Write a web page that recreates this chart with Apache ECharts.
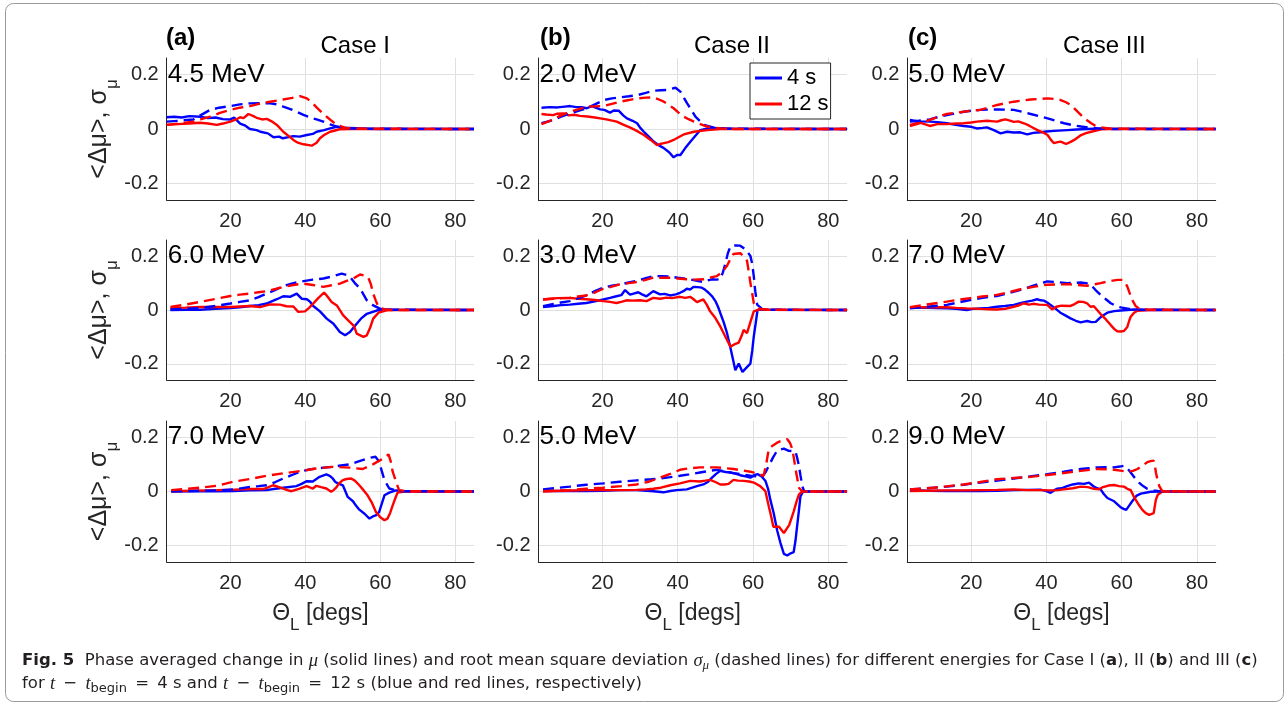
<!DOCTYPE html>
<html><head><meta charset="utf-8">
<script src="https://cdn.jsdelivr.net/npm/echarts@6/dist/echarts.min.js"></script>
<style>html,body{margin:0;padding:0;background:#fff}#c{width:1288px;height:705px}</style>
</head><body><div id="c"></div><script>
// ---------- DATA (theta_L in degrees, value) ----------
const caseTitles = ['Case I', 'Case II', 'Case III'];
const panelLetters = ['(a)', '(b)', '(c)'];
const energyLabels = [
  ['4.5 MeV', '2.0 MeV', '5.0 MeV'],
  ['6.0 MeV', '3.0 MeV', '7.0 MeV'],
  ['7.0 MeV', '5.0 MeV', '9.0 MeV']
];
const legendNames = ['4 s', '12 s'];

// Row 1
const a1BlueMean = [[3,0.043],[5,0.045],[7,0.042],[9,0.047],[12,0.045],[14,0.04],[16,0.042],[18,0.036],[20,0.035],[21,0.042],[22.6,0.02],[24,0.012],[25.2,0.0],[27,-0.004],[28,-0.01],[30,-0.016],[31.5,-0.03],[33,-0.028],[34,-0.034],[35.5,-0.03],[36.8,-0.026],[38.5,-0.028],[40.4,-0.022],[42,-0.018],[43,-0.01],[45,-0.004],[46.6,0.002],[48.4,0.008],[50,0.005],[53.7,0.003],[56,0.001],[60,0],[85,0]];
const a1RedMean = [[3,0.015],[6,0.018],[9,0.02],[11.9,0.023],[14,0.02],[16.4,0.015],[18,0.02],[20,0.027],[21.5,0.035],[22.6,0.043],[23.5,0.04],[24.8,0.055],[26,0.048],[27,0.041],[28.5,0.035],[29.7,0.037],[31,0.028],[32.4,0.015],[33.3,0.002],[34.1,-0.01],[35.5,-0.025],[36.8,-0.04],[38,-0.05],[39.5,-0.056],[41.7,-0.061],[43,-0.05],[43.9,-0.034],[45,-0.022],[46.6,-0.01],[49.2,-0.001],[52,0],[85,0]];
const a1BlueSigma = [[3,0.027],[6,0.03],[10.1,0.035],[12,0.05],[14.6,0.07],[17,0.078],[20,0.084],[22.5,0.09],[25.2,0.094],[28,0.095],[30.6,0.094],[32.5,0.09],[34.1,0.082],[36,0.073],[37.7,0.063],[39.5,0.052],[41.2,0.043],[43,0.035],[44.8,0.027],[46.6,0.017],[48.4,0.009],[50,0.005],[51.9,0.002],[55,0.001],[85,0]];
const a1RedSigma = [[3,0.015],[6,0.02],[10.1,0.027],[12,0.035],[14.6,0.045],[17,0.058],[20,0.07],[22.5,0.078],[25.2,0.084],[28,0.093],[30.6,0.1],[32.5,0.104],[34.1,0.108],[36.5,0.114],[38.6,0.12],[40.4,0.112],[41.7,0.098],[43,0.079],[44.3,0.062],[45.7,0.045],[47,0.03],[48.4,0.015],[51,0.003],[55,0.001],[85,0]];

const b1BlueMean = [[3.8,0.078],[6,0.08],[8,0.079],[10,0.082],[11.4,0.084],[13,0.08],[14.5,0.08],[15.8,0.076],[17.2,0.084],[18.2,0.078],[19.4,0.072],[20.5,0.07],[22,0.06],[23,0.068],[24.3,0.067],[25.5,0.05],[26.5,0.039],[28,0.03],[29.2,0.021],[30,0.005],[31,-0.01],[32.3,-0.028],[33.6,-0.046],[35,-0.06],[36.3,-0.07],[37.7,-0.085],[38.9,-0.104],[39.8,-0.095],[40.7,-0.095],[42,-0.07],[43.4,-0.046],[44.7,-0.025],[46,-0.004],[48.7,0.005],[51,0.002],[55,0.001],[85,0]];
const b1RedMean = [[3.8,0.055],[5,0.053],[6.9,0.051],[8,0.056],[9.6,0.057],[11,0.05],[12.5,0.052],[14,0.048],[16,0.046],[18,0.042],[19.4,0.039],[21,0.035],[23.8,0.027],[25.5,0.016],[27.4,0.005],[29,-0.006],[31,-0.022],[32.8,-0.04],[34.5,-0.059],[35.3,-0.055],[36.3,-0.052],[37.5,-0.048],[38.9,-0.04],[40.2,-0.03],[41.6,-0.02],[44.3,-0.01],[47.8,-0.004],[51.4,0],[85,0]];
const b1BlueSigma = [[3.8,0.021],[6.9,0.033],[9,0.045],[11.4,0.057],[14,0.068],[15.8,0.076],[18,0.09],[20.3,0.106],[22.5,0.112],[24.7,0.116],[27,0.12],[29.2,0.124],[31.5,0.132],[33.6,0.14],[35.5,0.142],[37.2,0.143],[39.4,0.151],[40.7,0.137],[41.6,0.115],[42.5,0.094],[43.6,0.07],[44.7,0.045],[46,0.028],[46.9,0.015],[49.6,0.005],[53,0.001],[85,0]];
const b1RedSigma = [[3.8,0.018],[6.9,0.035],[9,0.05],[11.4,0.063],[14,0.074],[15.8,0.082],[18,0.083],[20.3,0.084],[22.5,0.092],[24.7,0.1],[27,0.106],[29.2,0.112],[31.5,0.115],[33.6,0.116],[35,0.108],[36.3,0.1],[37.6,0.088],[38.9,0.076],[40.2,0.06],[41.6,0.045],[43,0.035],[44.3,0.027],[46,0.018],[47.8,0.009],[51.4,0.002],[55,0],[85,0]];

const c1BlueMean = [[3.7,0.033],[6,0.028],[9,0.027],[11,0.025],[13.5,0.021],[15.5,0.016],[18,0.011],[20,0.008],[21.5,0.002],[23,0.004],[24.2,0.006],[26,-0.004],[27.8,-0.016],[29.5,-0.01],[31.3,-0.013],[33,-0.012],[34.9,-0.02],[36.5,-0.014],[38.5,-0.012],[40,-0.009],[42,-0.007],[45.6,-0.004],[48,-0.002],[51,0],[54.6,0.002],[57,0.001],[85,0]];
const c1RedMean = [[3.7,0.015],[5,0.02],[6.3,0.023],[8,0.016],[9,0.011],[11,0.018],[13.5,0.018],[16,0.02],[18,0.021],[20,0.024],[21.5,0.027],[24.2,0.03],[26,0.028],[26.9,0.027],[28,0.032],[29.1,0.035],[30.5,0.03],[31.3,0.026],[32.5,0.028],[34,0.021],[35,0.015],[35.8,0.009],[37.6,-0.004],[39,-0.012],[40.3,-0.022],[41.2,-0.04],[42,-0.052],[43,-0.048],[43.8,-0.046],[45.2,-0.055],[46.3,-0.048],[47.4,-0.04],[49.2,-0.022],[50.5,-0.015],[51.9,-0.01],[54.6,-0.001],[57,0],[85,0]];
const c1BlueSigma = [[3.7,0.027],[6,0.03],[9,0.035],[11,0.043],[13.5,0.051],[16,0.058],[18,0.063],[20,0.067],[22.4,0.07],[24.5,0.071],[26.9,0.072],[29,0.071],[31.3,0.07],[33.5,0.063],[35.8,0.055],[38,0.047],[40.3,0.039],[42.5,0.03],[44.7,0.021],[47,0.014],[49.2,0.009],[51.5,0.005],[53.7,0.002],[57,0],[85,0]];
const c1RedSigma = [[3.7,0.011],[6,0.02],[9,0.033],[11,0.044],[13.5,0.055],[16,0.06],[18,0.063],[20,0.067],[22.4,0.07],[24.5,0.078],[26.9,0.088],[29,0.094],[31.3,0.1],[33.5,0.104],[35.8,0.108],[38,0.11],[40.3,0.112],[42,0.11],[43.8,0.106],[45.2,0.098],[46.5,0.088],[47.8,0.07],[49.2,0.051],[50.5,0.035],[51.9,0.021],[53,0.012],[54.6,0.006],[57,0.001],[85,0]];

// Row 2
const a2BlueMean = [[4,0],[8,0.001],[11.9,0.001],[16,0.004],[20,0.007],[22.5,0.01],[25.2,0.015],[27.5,0.018],[29.7,0.024],[31,0.032],[32.4,0.04],[34.1,0.051],[35.9,0.049],[37.7,0.061],[39,0.042],[40.4,0.04],[41.3,0.03],[42.1,0.015],[43.9,-0.005],[45.7,-0.032],[47.5,-0.051],[49.2,-0.082],[50.6,-0.094],[51.9,-0.082],[53.7,-0.051],[55,-0.03],[56.4,-0.014],[59,-0.002],[60.8,0.002],[63,0.001],[85,0]];
const a2RedMean = [[4,0.007],[8,0.009],[11.9,0.011],[16,0.011],[20,0.011],[25.2,0.015],[27.9,0.011],[30.6,0.021],[33.2,0.02],[35,0.014],[36.8,0.013],[38.1,-0.007],[39.9,-0.005],[41,0.008],[42.1,0.024],[43.5,0.045],[45,0.065],[46,0.048],[47,0.03],[48.4,0.017],[50.1,-0.02],[51.9,-0.045],[53,-0.06],[53.7,-0.088],[55.5,-0.1],[56.4,-0.094],[57.3,-0.065],[58.1,-0.032],[59.5,-0.01],[61.7,-0.001],[64,0],[85,0]];
const a2BlueSigma = [[4,0.002],[8,0.004],[11.9,0.007],[16,0.015],[20,0.024],[22.5,0.03],[25.2,0.036],[27.5,0.048],[29.7,0.061],[32,0.075],[34.1,0.089],[36.8,0.1],[39.5,0.107],[42,0.113],[44.8,0.117],[47.3,0.125],[49.7,0.135],[51,0.13],[51.9,0.123],[53.2,0.1],[54.6,0.08],[55.5,0.058],[56.4,0.036],[58.1,0.017],[59.9,0.005],[62,0.001],[85,0]];
const a2RedSigma = [[4,0.011],[8,0.02],[11.9,0.03],[16,0.041],[20,0.052],[22.5,0.057],[25.2,0.061],[27.5,0.066],[29.7,0.07],[32,0.078],[34.1,0.086],[36.8,0.093],[39.5,0.098],[42,0.093],[44.8,0.086],[47,0.092],[49.2,0.098],[51,0.108],[52.8,0.117],[54.6,0.132],[55.8,0.128],[56.8,0.12],[57.5,0.095],[58.1,0.061],[58.8,0.035],[59.5,0.011],[61,0.003],[63,0],[85,0]];

const b2BlueMean = [[4.2,0.011],[7,0.015],[9,0.018],[11.3,0.02],[13.5,0.023],[15.7,0.026],[18,0.032],[20.2,0.039],[22,0.045],[23.7,0.051],[25,0.055],[26,0.074],[27.3,0.057],[28.5,0.062],[29.5,0.066],[30.5,0.058],[31.7,0.051],[33.5,0.07],[35.3,0.058],[36.5,0.06],[38,0.054],[39.5,0.058],[40.6,0.064],[41.5,0.07],[42.4,0.079],[43.3,0.076],[44.2,0.086],[45.3,0.085],[46.4,0.083],[47.3,0.075],[48.2,0.064],[49.2,0.05],[50,0.033],[50.7,0.012],[51.3,-0.011],[52.2,-0.045],[53.1,-0.086],[54,-0.14],[54.7,-0.185],[55.3,-0.224],[56.2,-0.199],[57.2,-0.23],[58.2,-0.215],[59.3,-0.199],[59.8,-0.15],[60.2,-0.099],[60.7,-0.05],[61.2,0],[62,0.002],[64,0.001],[85,0]];
const b2RedMean = [[4.2,0.039],[6,0.042],[8,0.044],[11.3,0.045],[13.5,0.042],[15.7,0.04],[18,0.037],[20.2,0.033],[22,0.03],[23.7,0.026],[25,0.03],[26.4,0.036],[28,0.035],[30,0.036],[31.7,0.033],[33.5,0.045],[35.3,0.042],[37,0.046],[38.5,0.044],[40.6,0.049],[42,0.045],[43.3,0.049],[44.2,0.04],[45.1,0.029],[46,0.035],[46.8,0.039],[47.7,0.02],[48.6,-0.005],[50,-0.03],[51.3,-0.061],[52.5,-0.095],[54,-0.136],[55,-0.128],[56.2,-0.121],[57,-0.095],[57.5,-0.074],[58,-0.08],[58.4,-0.086],[59.3,-0.045],[60.2,-0.005],[61.9,0.003],[64,0.001],[85,0]];
const b2BlueSigma = [[4.2,0.014],[7,0.023],[9,0.028],[11.3,0.033],[13.5,0.043],[15.7,0.054],[18,0.07],[20.2,0.083],[22.5,0.09],[24.6,0.095],[27,0.102],[29.1,0.108],[31.5,0.118],[33.5,0.126],[35.8,0.126],[38,0.124],[40,0.12],[42.4,0.116],[44.5,0.11],[46.8,0.104],[48,0.11],[49.1,0.114],[50.2,0.113],[51.3,0.114],[52,0.14],[52.6,0.17],[53.3,0.21],[54,0.236],[55.3,0.24],[56.6,0.239],[58,0.225],[59.3,0.201],[59.8,0.17],[60.2,0.126],[60.6,0.07],[61.1,0.02],[62.4,0.004],[64,0.001],[85,0]];
const b2RedSigma = [[4.2,0.039],[7,0.042],[9,0.044],[11.3,0.045],[13.5,0.05],[15.7,0.054],[18,0.065],[20.2,0.079],[22.5,0.087],[24.6,0.095],[27,0.1],[29.1,0.104],[31.5,0.112],[33.5,0.12],[35.8,0.12],[38,0.12],[40,0.117],[42.4,0.114],[44.5,0.113],[46.8,0.114],[48.5,0.12],[50.4,0.126],[51.8,0.14],[53.1,0.164],[54,0.19],[54.8,0.208],[56.6,0.211],[57.5,0.2],[58.4,0.183],[58.9,0.14],[59.3,0.101],[59.8,0.06],[60.2,0.026],[61.9,0.004],[64,0.001],[85,0]];

const c2BlueMean = [[3.7,0.009],[8,0.008],[13.5,0.006],[16,0.004],[18.8,0],[20.5,0.004],[22.4,0.006],[24.6,0.008],[26.8,0.012],[29,0.015],[31.3,0.019],[33,0.025],[34.8,0.031],[36.2,0.035],[37.5,0.04],[38.5,0.036],[39.3,0.035],[40.2,0.028],[41.1,0.019],[42.4,0.005],[43.7,-0.01],[45,-0.02],[46.4,-0.031],[47.8,-0.04],[49.1,-0.046],[50,-0.043],[50.8,-0.041],[52,-0.045],[53.1,-0.044],[54,-0.032],[54.8,-0.022],[56.2,-0.01],[58,-0.004],[59.7,-0.002],[63.3,0.002],[66,0],[85,0]];
const c2RedMean = [[3.7,0.009],[8,0.01],[13.5,0.01],[16,0.008],[18.8,0.006],[22.4,0.004],[24.6,0.003],[26.8,0.002],[29,0.004],[31.3,0.012],[32.5,0.016],[34,0.025],[35.3,0.02],[36.5,0.023],[38,0.02],[40.2,0.019],[41.5,0.002],[42.6,0.012],[44,0.016],[46.4,0.015],[47.5,0.022],[48.6,0.031],[49.8,0.03],[50.8,0.025],[51.7,0.012],[52.6,0.014],[54.4,-0.015],[55.8,-0.035],[57.1,-0.056],[58,-0.07],[58.8,-0.079],[59.7,-0.08],[60.6,-0.078],[61.5,-0.063],[62,-0.04],[62.4,-0.025],[63.3,-0.01],[64.2,-0.003],[67,0],[85,0]];
const c2BlueSigma = [[3.7,0.006],[8,0.012],[13.5,0.019],[16.5,0.028],[19.7,0.037],[23,0.045],[26.8,0.052],[30,0.063],[33.1,0.075],[36.5,0.09],[40.2,0.106],[42.5,0.104],[45.5,0.1],[47.3,0.101],[49.1,0.102],[50.5,0.1],[51.7,0.095],[53,0.075],[54.4,0.056],[55.8,0.04],[57.1,0.025],[58.4,0.016],[59.7,0.01],[62,0.004],[65,0.001],[85,0]];
const c2RedSigma = [[3.7,0.01],[8,0.02],[13.5,0.031],[16.5,0.038],[19.7,0.044],[23,0.05],[26.8,0.056],[30,0.066],[33.1,0.077],[36.5,0.086],[40.2,0.094],[43,0.095],[45.5,0.096],[48,0.093],[50.8,0.09],[52.6,0.095],[54.4,0.1],[56,0.105],[58,0.11],[59,0.112],[60.2,0.112],[61,0.1],[61.5,0.087],[62.2,0.06],[62.8,0.037],[63.7,0.015],[64.6,0.006],[67,0.001],[85,0]];

// Row 3
const a3BlueMean = [[4.2,0],[10,0.001],[16.4,0.001],[21,0.002],[25.2,0.004],[29.6,0.005],[32,0.01],[34.1,0.014],[37.6,0.02],[39,0.028],[40.3,0.038],[42,0.037],[43.8,0.054],[45.6,0.063],[46.5,0.058],[47.3,0.048],[48,0.035],[48.7,0.03],[50,0.023],[50.7,0.0],[51.3,-0.02],[52.7,-0.036],[53.5,-0.052],[54.4,-0.067],[55.8,-0.082],[57.1,-0.1],[58,-0.092],[58.8,-0.088],[59.7,-0.075],[60.4,-0.045],[61.1,-0.014],[62.4,-0.004],[64.2,0.004],[66,0.001],[85,0]];
const a3RedMean = [[4.2,0.001],[10,0.003],[16.4,0.005],[21,0.007],[25.2,0.009],[28.8,0.009],[30,0.015],[31.4,0.023],[32.8,0.017],[34.1,0.011],[35.2,0.005],[36.3,0.001],[38.3,0.01],[40.3,0.02],[41.2,0.015],[42,0.011],[42.9,0.021],[44.2,0.016],[45.6,0.011],[46.9,-0.001],[47.5,0.005],[48.2,0.014],[49,0.03],[50,0.042],[51,0.046],[52.2,0.048],[53.2,0.04],[54.4,0.023],[55.5,0.005],[56.6,-0.014],[57.7,-0.04],[58.8,-0.075],[60,-0.095],[61.1,-0.106],[61.9,-0.1],[62.6,-0.08],[63.3,-0.051],[64,-0.025],[64.6,-0.004],[66.8,0.001],[69,0],[85,0]];
const a3BlueSigma = [[4.2,0.001],[10,0.002],[16.4,0.004],[21,0.008],[25.2,0.017],[27.5,0.02],[29.6,0.023],[32,0.035],[34.1,0.048],[36.3,0.06],[38.5,0.073],[40.7,0.08],[42.9,0.085],[45,0.088],[47.3,0.091],[49.5,0.096],[51.8,0.1],[54,0.11],[56.2,0.12],[57.5,0.125],[58.7,0.128],[59.7,0.11],[60.4,0.075],[61.1,0.042],[62.4,0.011],[64.2,0.004],[66,0.001],[85,0]];
const a3RedSigma = [[4.2,0.005],[8,0.009],[11.9,0.014],[16.4,0.021],[20.8,0.036],[25.2,0.046],[29.6,0.058],[34.1,0.067],[38.5,0.075],[42.9,0.085],[47.3,0.091],[51.8,0.088],[55.3,0.083],[58,0.1],[60.6,0.12],[62.2,0.137],[62.8,0.11],[63.3,0.073],[64.2,0.036],[65,0.005],[67,0.001],[85,0]];

const b3BlueMean = [[4.2,0.002],[10,0.002],[15.7,0.002],[20,0.003],[24.6,0.005],[29.1,0.005],[33.5,0.001],[36.2,-0.003],[38,0.002],[39.7,0.005],[42.4,0.008],[45.1,0.02],[46.8,0.026],[48,0.035],[49.1,0.051],[50.2,0.065],[51.3,0.076],[52.7,0.072],[54,0.07],[55.3,0.066],[56.6,0.06],[58,0.056],[59.3,0.051],[60.3,0.06],[61.2,0.064],[62.3,0.055],[63.3,0.039],[64,0.01],[64.6,-0.03],[65.5,-0.08],[66.4,-0.143],[67.3,-0.19],[68.2,-0.23],[69.1,-0.236],[70,-0.228],[70.8,-0.224],[71.3,-0.18],[71.7,-0.13],[72.2,-0.07],[72.6,-0.018],[73.3,0],[85,0]];
const b3RedMean = [[4.2,0.001],[10,0.003],[15.7,0.005],[20,0.005],[24.6,0.005],[29.1,0.006],[31.5,0.008],[33.5,0.01],[35.5,0.014],[38,0.023],[40.6,0.03],[43.3,0.039],[45.9,0.037],[47.3,0.04],[48.6,0.043],[50,0.035],[51.3,0.026],[52.4,0.026],[53.5,0.028],[54.8,0.043],[56,0.04],[57.5,0.039],[59,0.037],[60.2,0.033],[61.9,0.02],[63.3,0.001],[64.2,-0.055],[64.8,-0.09],[65.4,-0.13],[66.9,-0.13],[68.2,-0.153],[69.6,-0.124],[70.8,-0.074],[71.5,-0.04],[72.2,-0.011],[73.1,0],[85,0]];
const b3BlueSigma = [[4.2,0.008],[7,0.012],[11.3,0.018],[15.7,0.025],[20.2,0.03],[24.6,0.036],[29.1,0.041],[33,0.045],[35.3,0.048],[38,0.053],[40.6,0.058],[43,0.063],[45.9,0.07],[48,0.075],[50.4,0.08],[52.5,0.074],[54.8,0.068],[57,0.063],[59.3,0.058],[61,0.056],[62.4,0.055],[63.3,0.07],[64.2,0.095],[65.3,0.125],[66.4,0.151],[68.2,0.158],[69.5,0.15],[71.3,0.148],[71.8,0.12],[72.2,0.095],[72.6,0.06],[73.1,0.02],[73.6,0],[85,0]];
const b3RedSigma = [[4.2,0.001],[8,0.003],[11.3,0.005],[15.7,0.01],[20.2,0.014],[25,0.02],[29.1,0.026],[32,0.035],[35.3,0.051],[38,0.065],[40.6,0.08],[43.3,0.086],[45.9,0.089],[48,0.089],[50.4,0.089],[52.5,0.086],[54.8,0.083],[57,0.078],[59.3,0.073],[61,0.066],[62.8,0.058],[63.5,0.1],[64.2,0.158],[65.3,0.17],[66.4,0.18],[67.7,0.188],[69.1,0.193],[69.8,0.18],[70.4,0.158],[70.9,0.12],[71.3,0.083],[71.8,0.045],[72.2,0.014],[73.1,0],[85,0]];

const c3BlueMean = [[3.7,0.005],[8,0.003],[13.5,0.002],[18,0.002],[22.4,0.002],[27,0.003],[31.3,0.005],[35,0.006],[38.4,0.007],[39.8,0.002],[41.1,-0.005],[42,0.004],[42.8,0.01],[44,0.012],[45.5,0.02],[47,0.026],[48.6,0.03],[50,0.028],[51.3,0.033],[52,0.025],[52.6,0.018],[53.5,0.012],[54.4,0.008],[55.3,-0.01],[56.2,-0.024],[58,-0.036],[59.7,-0.058],[60.5,-0.064],[61.2,-0.068],[62,-0.052],[62.8,-0.036],[64,-0.015],[65.1,-0.008],[67.7,-0.001],[70,0],[85,0]];
const c3RedMean = [[3.7,0.002],[8,0.003],[13.5,0.004],[18,0.004],[22.4,0.005],[27,0.006],[31.3,0.008],[35,0.005],[38.4,0.005],[41,0.004],[43,0.005],[44.6,0.008],[47,0.012],[49.1,0.018],[51,0.016],[52.6,0.01],[54,0.008],[54.8,0.015],[56.5,0.022],[58,0.024],[59.3,0.02],[60.6,0.018],[61.5,0.01],[62.4,0.005],[63.1,-0.015],[63.7,-0.03],[64.6,-0.05],[65.5,-0.068],[66.4,-0.08],[67.3,-0.086],[68.5,-0.08],[68.8,-0.055],[69.1,-0.03],[69.6,-0.012],[70,-0.005],[70.8,0],[85,0]];
const c3BlueSigma = [[3.7,0.008],[8,0.012],[13.5,0.018],[18,0.025],[22.4,0.033],[27,0.04],[31.3,0.048],[35.7,0.056],[40.2,0.064],[44.6,0.073],[49.1,0.083],[51.3,0.086],[53.5,0.089],[55.8,0.09],[58,0.089],[59.5,0.092],[60.6,0.095],[61.5,0.086],[62.4,0.07],[63.5,0.05],[64.6,0.033],[65.7,0.02],[66.8,0.01],[68.5,0.004],[70,0.001],[85,0]];
const c3RedSigma = [[3.7,0.008],[6,0.01],[10,0.014],[14,0.02],[18,0.026],[22.4,0.035],[26.8,0.045],[31.3,0.05],[35.7,0.054],[40.2,0.061],[44.6,0.068],[49.1,0.076],[53.5,0.083],[56,0.082],[58,0.08],[59.7,0.077],[61.5,0.073],[63,0.076],[64.2,0.083],[65.5,0.095],[66.8,0.108],[67.7,0.112],[68.5,0.114],[68.8,0.1],[69.1,0.07],[69.5,0.045],[70,0.02],[70.8,0.001],[85,0]];

// ---------- LAYOUT / STYLE ----------
const FONT = '"Liberation Sans", Arial, Helvetica, sans-serif';
const CAPFONT = '"DejaVu Sans", "Open Sans", sans-serif';
const MATHFONT = '"Liberation Serif", "DejaVu Serif", serif';
const INK = '#262626';
const BLUE = '#0000ff', RED = '#ff0000';
const colLeft = [166.7, 538.5, 907.3];
const colWidth = [307.3, 308.6, 308.4];
const rowTop = [58, 240, 421];
const rowHeight = [142, 140, 141];
const Y_MIN = -0.26, Y_MAX = 0.26, X_MIN = 3, X_MAX = 85;

const panels = [
  [[a1BlueMean, a1RedMean, a1BlueSigma, a1RedSigma], [b1BlueMean, b1RedMean, b1BlueSigma, b1RedSigma], [c1BlueMean, c1RedMean, c1BlueSigma, c1RedSigma]],
  [[a2BlueMean, a2RedMean, a2BlueSigma, a2RedSigma], [b2BlueMean, b2RedMean, b2BlueSigma, b2RedSigma], [c2BlueMean, c2RedMean, c2BlueSigma, c2RedSigma]],
  [[a3BlueMean, a3RedMean, a3BlueSigma, a3RedSigma], [b3BlueMean, b3RedMean, b3BlueSigma, b3RedSigma], [c3BlueMean, c3RedMean, c3BlueSigma, c3RedSigma]]
];

const grids = [], xAxes = [], yAxes = [], series = [], graphics = [];
const DASH = [11, 6];

function lineSeries(k, name, data, color, type) {
  return {
    type: 'line', name: name, xAxisIndex: k, yAxisIndex: k, data: data,
    symbol: 'none', showSymbol: false, animation: false, clip: true,
    lineStyle: { color: color, width: 2.4, type: type },
    itemStyle: { color: color }, emphasis: { disabled: true }
  };
}

for (let r = 0; r < 3; r++) {
  for (let c = 0; c < 3; c++) {
    const k = r * 3 + c;
    grids.push({ left: colLeft[c], top: rowTop[r], width: colWidth[c], height: rowHeight[r] });
    const xa = {
      gridIndex: k, type: 'value', min: X_MIN, max: X_MAX, splitNumber: 4, minInterval: 20, maxInterval: 20,
      axisLine: { onZero: false, lineStyle: { color: INK, width: 1 } },
      axisTick: { show: false },
      axisLabel: { fontSize: 20, fontFamily: FONT, color: INK, margin: 11, showMinLabel: false, showMaxLabel: false },
      splitLine: { show: true, showMinLine: false, showMaxLine: false, lineStyle: { color: '#e0e0e0', width: 1 } }
    };
    if (r === 2) {
      xa.name = 'Θ{s|L} [degs]';
      xa.nameLocation = 'middle';
      xa.nameGap = 29;
      xa.nameTextStyle = {
        fontSize: 23, fontFamily: FONT, color: INK, lineHeight: 40,
        rich: { s: { fontSize: 17, fontFamily: FONT, color: INK, lineHeight: 18, verticalAlign: 'bottom' } }
      };
    }
    xAxes.push(xa);
    const ya = {
      gridIndex: k, type: 'value', min: Y_MIN, max: Y_MAX, splitNumber: 3, minInterval: 0.2, maxInterval: 0.2,
      axisLine: { show: true, onZero: false, lineStyle: { color: INK, width: 1 } },
      axisTick: { show: false },
      axisLabel: { fontSize: 20, fontFamily: FONT, color: INK, margin: 8, showMinLabel: false, showMaxLabel: false },
      splitLine: { show: true, showMinLine: false, showMaxLine: false, lineStyle: { color: '#e0e0e0', width: 1 } }
    };
    if (c === 0) {
      ya.name = '<Δμ>, σ{s|μ}';
      ya.nameLocation = 'middle';
      ya.nameRotate = 90;
      ya.nameGap = 45;
      ya.nameTextStyle = {
        fontSize: 25, fontFamily: FONT, color: INK, lineHeight: 42,
        rich: { s: { fontSize: 17, fontFamily: FONT, color: INK, lineHeight: 18, verticalAlign: 'bottom' } }
      };
    }
    yAxes.push(ya);
    const [bm, rm, bs, rs] = panels[r][c];
    series.push(lineSeries(k, legendNames[0], bm, BLUE, 'solid'));
    series.push(lineSeries(k, legendNames[1], rm, RED, 'solid'));
    series.push(lineSeries(k, legendNames[0] + ' σ', bs, BLUE, DASH));
    series.push(lineSeries(k, legendNames[1] + ' σ', rs, RED, DASH));

    // energy label at the 0.2 level, top-left inside the panel
    const yLab = rowTop[r] + (Y_MAX - 0.2) / (Y_MAX - Y_MIN) * rowHeight[r];
    graphics.push({
      type: 'text', x: colLeft[c] + 1, y: yLab, z: 10,
      style: { text: energyLabels[r][c], fontSize: 26, fontFamily: FONT, fill: '#000',
               align: 'left', verticalAlign: 'middle', textAlign: 'left', textVerticalAlign: 'middle' }
    });
  }
}

const titleX = [[166, 320.5], [540, 694], [908, 1063]];
for (let c = 0; c < 3; c++) {
  graphics.push({ type: 'text', x: titleX[c][0], y: 38, z: 10,
    style: { text: panelLetters[c], fontSize: 24, fontWeight: 'bold', fontFamily: FONT, fill: '#000',
             align: 'left', verticalAlign: 'middle', textAlign: 'left', textVerticalAlign: 'middle' } });
  graphics.push({ type: 'text', x: titleX[c][1], y: 46, z: 10,
    style: { text: caseTitles[c], fontSize: 24, fontFamily: FONT, fill: '#000',
             align: 'left', verticalAlign: 'middle', textAlign: 'left', textVerticalAlign: 'middle' } });
}

// caption
const CAPSIZE = 16.5;
const capBase = { fontSize: CAPSIZE, fontFamily: CAPFONT, fill: '#231f20', lineHeight: 22 };
const capRich = {
  b: { fontSize: CAPSIZE, fontFamily: CAPFONT, fontWeight: 'bold', fill: '#231f20', lineHeight: 22 },
  m: { fontSize: 18.5, fontFamily: MATHFONT, fontStyle: 'italic', fill: '#231f20', lineHeight: 22 },
  ms: { fontSize: 13, fontFamily: MATHFONT, fontStyle: 'italic', fill: '#231f20', lineHeight: 12, verticalAlign: 'bottom' },
  s: { fontSize: 13, fontFamily: CAPFONT, fill: '#231f20', lineHeight: 12, verticalAlign: 'bottom' }
};
const SP = '\u2002';
graphics.push({ type: 'text', x: 22, y: 661, z: 10,
  style: Object.assign({}, capBase, { rich: capRich, verticalAlign: 'middle', textVerticalAlign: 'middle',
    text: '{b|Fig. 5}  Phase averaged change in {m|μ} (solid lines) and root mean square deviation {m|σ}{ms|μ} (dashed lines) for different energies for Case I ({b|a}), II ({b|b}) and III ({b|c})' }) });
graphics.push({ type: 'text', x: 22, y: 684, z: 10,
  style: Object.assign({}, capBase, { rich: capRich, verticalAlign: 'middle', textVerticalAlign: 'middle',
    text: 'for {m|t}' + SP + '\u2212' + SP + '{m|t}{s|begin}' + SP + '=' + SP + '4 s and {m|t}' + SP + '\u2212' + SP + '{m|t}{s|begin}' + SP + '=' + SP + '12 s (blue and red lines, respectively)' }) });

// outer rounded frame
graphics.push({ type: 'rect', z: 0, shape: { x: 5.5, y: 3.5, width: 1278, height: 698, r: 8 },
  style: { fill: 'none', stroke: '#9a9a9a', lineWidth: 1 } });

const chart = echarts.init(document.getElementById('c'), null, { renderer: 'canvas' });
chart.setOption({
  animation: false,
  backgroundColor: '#ffffff',
  textStyle: { fontFamily: FONT },
  grid: grids, xAxis: xAxes, yAxis: yAxes, series: series,
  legend: {
    data: [
      { name: legendNames[0], icon: 'rect', itemStyle: { color: BLUE } },
      { name: legendNames[1], icon: 'rect', itemStyle: { color: RED } }
    ],
    left: 750, top: 63, orient: 'vertical',
    itemWidth: 27, itemHeight: 3, itemGap: 4, padding: [4, 2, 4, 5],
    backgroundColor: '#ffffff', borderColor: INK, borderWidth: 1, borderRadius: 0,
    textStyle: { fontSize: 22, fontFamily: FONT, color: '#000' },
    selectedMode: false, z: 20
  },
  graphic: graphics
});
</script></body></html>
